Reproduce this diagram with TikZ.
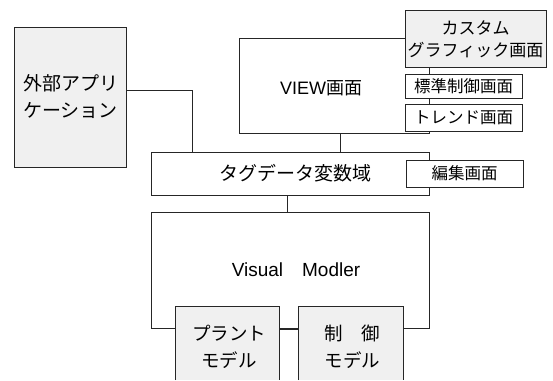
\documentclass[tikz,border=0pt]{standalone}
\usepackage{fontspec}
\setmainfont{Noto Sans CJK JP}
\newfontfamily\lat{Liberation Sans}
\begin{document}
\begin{tikzpicture}[x=1pt,y=-1pt,
  box/.style={draw=black!85, line width=0.9pt, inner sep=0pt, outer sep=0pt, anchor=north west},
  wbox/.style={box, fill=white},
  gbox/.style={box, fill=black!6},
  lbl/.style={inner sep=0pt, align=center},
  conn/.style={draw=black!85, line width=0.9pt}]
\useasboundingbox[fill=white] (0,0) rectangle (553,380);

% external application
\node[gbox, minimum width=112pt, minimum height=140pt] (app) at (14,27) {};
\node[lbl, font=\fontsize{19}{27}\selectfont] (appt) at (70.5,96.5) {外部アプリ\\ケーション};

% VIEW
\node[box, minimum width=190pt, minimum height=95pt] (view) at (239,38) {};
\node[lbl, font=\fontsize{18}{22}\selectfont] (viewt) at (321,88) {{\lat VIEW}画面};
\node[gbox, minimum width=141pt, minimum height=57pt] (cust) at (405,10) {};
\node[lbl, font=\fontsize{17}{22}\selectfont] (custt) at (475.5,39) {カスタム\\グラフィック画面};
\node[wbox, minimum width=117pt, minimum height=24pt, font=\fontsize{16.5}{20}\selectfont] (std) at (405,74) {標準制御画面};
\node[wbox, minimum width=117pt, minimum height=27pt, font=\fontsize{16.5}{20}\selectfont] (trend) at (405,104) {トレンド画面};

% tag data
\node[box, minimum width=278pt, minimum height=43pt] (tag) at (151,152) {};
\node[lbl, font=\fontsize{19}{22}\selectfont] (tagt) at (295,173) {タグデータ変数域};
\node[wbox, minimum width=117pt, minimum height=27pt, font=\fontsize{16.5}{20}\selectfont] (edit) at (406,160) {編集画面};

% Visual Modler
\node[box, minimum width=278pt, minimum height=116pt] (vm) at (151,212) {};
\node[lbl, font=\fontsize{19}{22}\selectfont] (vmt) at (296,270) {{\lat Visual}　{\lat Modler}};

% plant / control models
\node[fill=black!6, inner sep=0pt, outer sep=0pt, anchor=north west, minimum width=104pt, minimum height=74pt] (plant) at (175,306) {};
\draw[conn] (plant.south west) |- (plant.north east) -- (plant.south east);
\node[lbl, font=\fontsize{18.5}{27}\selectfont] (plantt) at (229,346.5) {プラント\\モデル};
\node[fill=black!6, inner sep=0pt, outer sep=0pt, anchor=north west, minimum width=105pt, minimum height=74pt] (ctrl) at (298,306) {};
\draw[conn] (ctrl.south west) |- (ctrl.north east) -- (ctrl.south east);
\node[lbl, font=\fontsize{18.5}{27}\selectfont] (ctrlt) at (352.5,346.5) {制　御\\モデル};

% connectors
\draw[conn] ([yshift=-63pt]app.north east) -| ([xshift=41pt]tag.north west);
\draw[conn] ([xshift=6pt]view.south) -- ([xshift=6pt]view.south |- tag.north);
\draw[conn] ([xshift=-3pt]tag.south) -- ([xshift=-3pt]tag.south |- vm.north);
\draw[conn] ([yshift=-23pt]plant.north east) -- ([yshift=-23pt]ctrl.north west);
\end{tikzpicture}
\end{document}
